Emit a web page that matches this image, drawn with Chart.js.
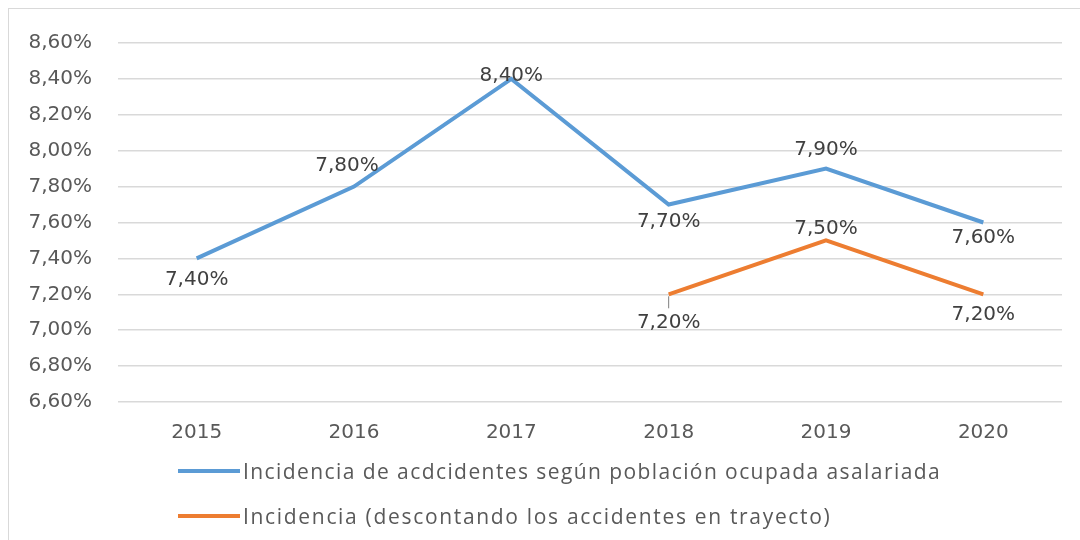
<!DOCTYPE html>
<html>
<head>
<meta charset="utf-8">
<script src="https://cdn.jsdelivr.net/npm/chart.js@4/dist/chart.umd.min.js"></script>
<style>
    html, body { margin: 0; padding: 0; background: #fff; }
    #wrap { position: relative; width: 1080px; height: 540px; overflow: hidden; }
    #frame { position: absolute; left: 8px; top: 8px; width: 1100px; height: 560px; border: 1px solid #d9d9d9; box-sizing: border-box; }
    #legend { position: absolute; left: 178px; top: 448px; font-family: "Open Sans", sans-serif; font-size: 21px; color: #595959; }
    .item { display: flex; align-items: center; height: 45px; }
    .swatch { width: 62px; height: 4px; margin-right: 3px; }
</style>
</head>
<body>
<div id="wrap">
    <canvas id="chart" width="1080" height="540"></canvas>
    <div id="frame"></div>
    <div id="legend"></div>
</div>
<script>
// Chart data
const years = ['2015', '2016', '2017', '2018', '2019', '2020'];
const incidenciaTotal = [7.4, 7.8, 8.4, 7.7, 7.9, 7.6];
const incidenciaSinTrayecto = [null, null, null, 7.2, 7.5, 7.2];
const seriesLabels = [
    'Incidencia de acdcidentes según población ocupada asalariada',
    'Incidencia (descontando los accidentes en trayecto)'
];
const seriesColors = ['#5B9BD5', '#ED7D31'];
// the legend text in the picture is spaced out; px of letter spacing per row
const legendSpacing = ['1.42px', '1.68px'];

// label placement (dx, dy in px from point)
const labelOffsets = [
    [[0, 21], [-7, -21], [0, -3], [0, 17], [0, -19], [0, 15]],
    [null, null, null, [0, 28], [0, -12], [0, 20]]
];

const fmt = v => v.toFixed(2).replace('.', ',') + '%';
const FONT = 'DejaVu Sans';

const dataLabels = {
    id: 'dataLabels',
    afterDatasetsDraw(chart) {
        const ctx = chart.ctx;
        ctx.save();
        ctx.font = '20px "' + FONT + '", sans-serif';
        ctx.fillStyle = '#404040';
        ctx.textAlign = 'center';
        ctx.textBaseline = 'middle';
        chart.data.datasets.forEach((ds, i) => {
            const meta = chart.getDatasetMeta(i);
            meta.data.forEach((pt, j) => {
                const v = ds.data[j];
                if (v == null) return;
                const off = labelOffsets[i][j];
                // small leader line for the 2018 orange label
                if (i === 1 && j === 3) {
                    ctx.strokeStyle = '#7f7f7f';
                    ctx.lineWidth = 1;
                    ctx.beginPath();
                    ctx.moveTo(pt.x, pt.y + 2);
                    ctx.lineTo(pt.x, pt.y + 14);
                    ctx.stroke();
                }
                ctx.fillText(fmt(v), pt.x + off[0], pt.y + off[1]);
            });
        });
        ctx.restore();
    }
};

new Chart(document.getElementById('chart'), {
    type: 'line',
    data: {
        labels: years,
        datasets: [
            {
                label: seriesLabels[0],
                data: incidenciaTotal,
                borderColor: seriesColors[0],
                borderWidth: 4,
                pointRadius: 0,
                tension: 0
            },
            {
                label: seriesLabels[1],
                data: incidenciaSinTrayecto,
                borderColor: seriesColors[1],
                borderWidth: 4,
                pointRadius: 0,
                tension: 0
            }
        ]
    },
    options: {
        responsive: false,
        animation: false,
        layout: { padding: { top: 43, right: 18, left: 0, bottom: 0 } },
        plugins: {
            legend: { display: false },
            tooltip: { enabled: false }
        },
        scales: {
            x: {
                offset: true,
                grid: { display: false, drawTicks: false },
                border: { display: false },
                ticks: {
                    color: '#595959',
                    font: { family: FONT, size: 20 },
                    padding: 19
                },
                afterFit: s => { s.height = 138; }
            },
            y: {
                min: 6.6,
                max: 8.6,
                grid: { color: '#d9d9d9', lineWidth: 1.5, drawTicks: false },
                border: { display: false },
                ticks: {
                    stepSize: 0.2,
                    color: '#595959',
                    font: { family: FONT, size: 20 },
                    padding: 26,
                    callback: v => fmt(v)
                },
                afterFit: s => { s.width = 118; }
            }
        }
    },
    plugins: [dataLabels]
});

// legend
const legend = document.getElementById('legend');
seriesLabels.forEach((lbl, i) => {
    const row = document.createElement('div');
    row.className = 'item';
    const sw = document.createElement('span');
    sw.className = 'swatch';
    sw.style.background = seriesColors[i];
    const txt = document.createElement('span');
    txt.textContent = lbl;
    txt.style.letterSpacing = legendSpacing[i];
    row.appendChild(sw);
    row.appendChild(txt);
    legend.appendChild(row);
});
</script>
</body>
</html>
